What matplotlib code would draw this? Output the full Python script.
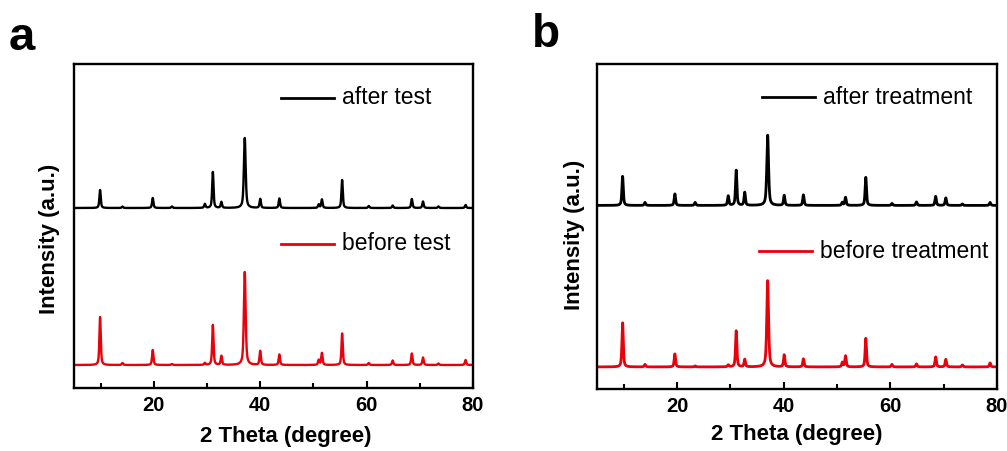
import numpy as np
import matplotlib
matplotlib.use("Agg")
import matplotlib.pyplot as plt
from matplotlib.ticker import MultipleLocator

plt.rcParams['font.family'] = ['Liberation Sans', 'DejaVu Sans']

# ---- data: peak positions (2theta, deg) and intensities (a.u.) ----
# Panel a
a_after_pos = [9.9, 14.1, 19.8, 23.4, 29.6, 31.1, 32.7, 37.1, 40.0, 43.6, 51.0, 51.6, 55.4, 60.4, 64.9, 68.5, 70.6, 73.5, 78.6]
a_after_int = [18, 1.5, 10, 1.5, 4, 36, 6, 70, 9, 9.5, 3.5, 8.5, 28, 2, 2.5, 9, 6.5, 1.5, 3]
a_before_pos = [9.9, 14.1, 19.8, 23.4, 29.6, 31.1, 32.7, 37.1, 40.0, 43.6, 51.0, 51.6, 55.4, 60.4, 64.9, 68.5, 70.6, 73.5, 78.6]
a_before_int = [48, 2, 15, 1, 2, 40, 9, 93, 14, 10.5, 5, 12, 31.5, 2, 4.5, 11.5, 7.5, 1.5, 5]
# Panel b
b_after_pos = [9.8, 14.0, 19.6, 23.4, 29.6, 31.1, 32.7, 37.0, 40.1, 43.7, 51.0, 51.6, 55.4, 60.3, 64.9, 68.5, 70.4, 73.5, 78.7]
b_after_int = [29, 3, 11.5, 3, 9.5, 35, 13, 70, 10, 10.5, 3, 8, 28, 2, 3.5, 9, 7.5, 1.5, 3]
b_before_pos = [9.8, 14.0, 19.6, 23.4, 29.6, 31.1, 32.7, 37.0, 40.1, 43.7, 51.0, 51.6, 55.4, 60.3, 64.9, 68.5, 70.4, 73.5, 78.7]
b_before_int = [44, 2.5, 13, 1, 2, 36, 7.5, 86, 12, 8, 4.5, 11, 28.5, 2.5, 3, 10, 7.5, 2, 4]

offset_a = [180, 23]   # vertical offsets of the stacked patterns (after, before)
offset_b = [183, 22]

labels_a = ["after test", "before test"]
labels_b = ["after treatment", "before treatment"]

xticks_major = [20, 40, 60, 80]


def pattern(x, pos, inten, fwhm=0.3, eta=0.6):
    y = np.zeros_like(x)
    for p, h in zip(pos, inten):
        w = fwhm * (1.3 if h > 60 else 1.0)
        g = np.exp(-4 * np.log(2) * ((x - p) / w) ** 2)
        l = 1.0 / (1.0 + 4 * ((x - p) / w) ** 2)
        y += h * (eta * l + (1 - eta) * g)
    return y


x = np.arange(5, 80.001, 0.02)

fig = plt.figure(figsize=(10.07, 4.51), dpi=100)
ax_a = fig.add_axes([74 / 1007, 63 / 451, 399 / 1007, 324 / 451])
ax_b = fig.add_axes([597 / 1007, 62 / 451, 400 / 1007, 325 / 451])

panels = [
    (ax_a, a_after_pos, a_after_int, a_before_pos, a_before_int, offset_a, labels_a,
     [(281 / 1007, 98), (281 / 1007, 244)], 1.7, (0.531, -0.118), (-0.035, 0.46)),
    (ax_b, b_after_pos, b_after_int, b_before_pos, b_before_int, offset_b, labels_b,
     [(762 / 1007, 97), (759 / 1007, 251)], 2.0, (0.5, -0.108), (-0.03, 0.474)),
]

for ax, p1, i1, p2, i2, off, labs, legpos, lw, xlc, ylc in panels:
    ax.plot(x, pattern(x, p1, i1) + off[0], color='black', lw=lw)
    ax.plot(x, pattern(x, p2, i2) + off[1], color='#e8000b', lw=lw)
    ax.set_xlim(5, 80)
    ax.set_ylim(0, 324)
    ax.set_xticks(xticks_major)
    ax.xaxis.set_minor_locator(MultipleLocator(10))
    ax.set_yticks([])
    ax.tick_params(axis='x', which='major', direction='in', length=5, width=1.5,
                   labelsize=14.5, pad=6)
    ax.tick_params(axis='x', which='minor', direction='in', length=3.5, width=1.5)
    for lab in ax.get_xticklabels():
        lab.set_fontweight('bold')
    for s in ax.spines.values():
        s.set_linewidth(1.7)
    ax.set_xlabel("2 Theta (degree)", fontsize=16, fontweight='bold')
    ax.set_ylabel("Intensity (a.u.)", fontsize=16, fontweight='bold')
    ax.xaxis.set_label_coords(*xlc)
    ax.yaxis.set_label_coords(*ylc)
    # legend entries drawn manually
    for (lx, ly), lab, col in zip(legpos, labs, ['black', '#e8000b']):
        yfig = 1 - ly / 451
        fig.add_artist(plt.Line2D([lx, lx + 53 / 1007], [yfig, yfig], color=col, lw=2.0))
        fig.text(lx + 61 / 1007, yfig, lab, fontsize=16.5, va='center', ha='left')

fig.text(9 / 1007, 1 - 38 / 451, "a", fontsize=34, fontweight='bold', va='center', ha='left')
fig.text(532 / 1007, 1 - 35 / 451, "b", fontsize=33, fontweight='bold', va='center', ha='left')

fig.savefig("out.png", dpi=100)
